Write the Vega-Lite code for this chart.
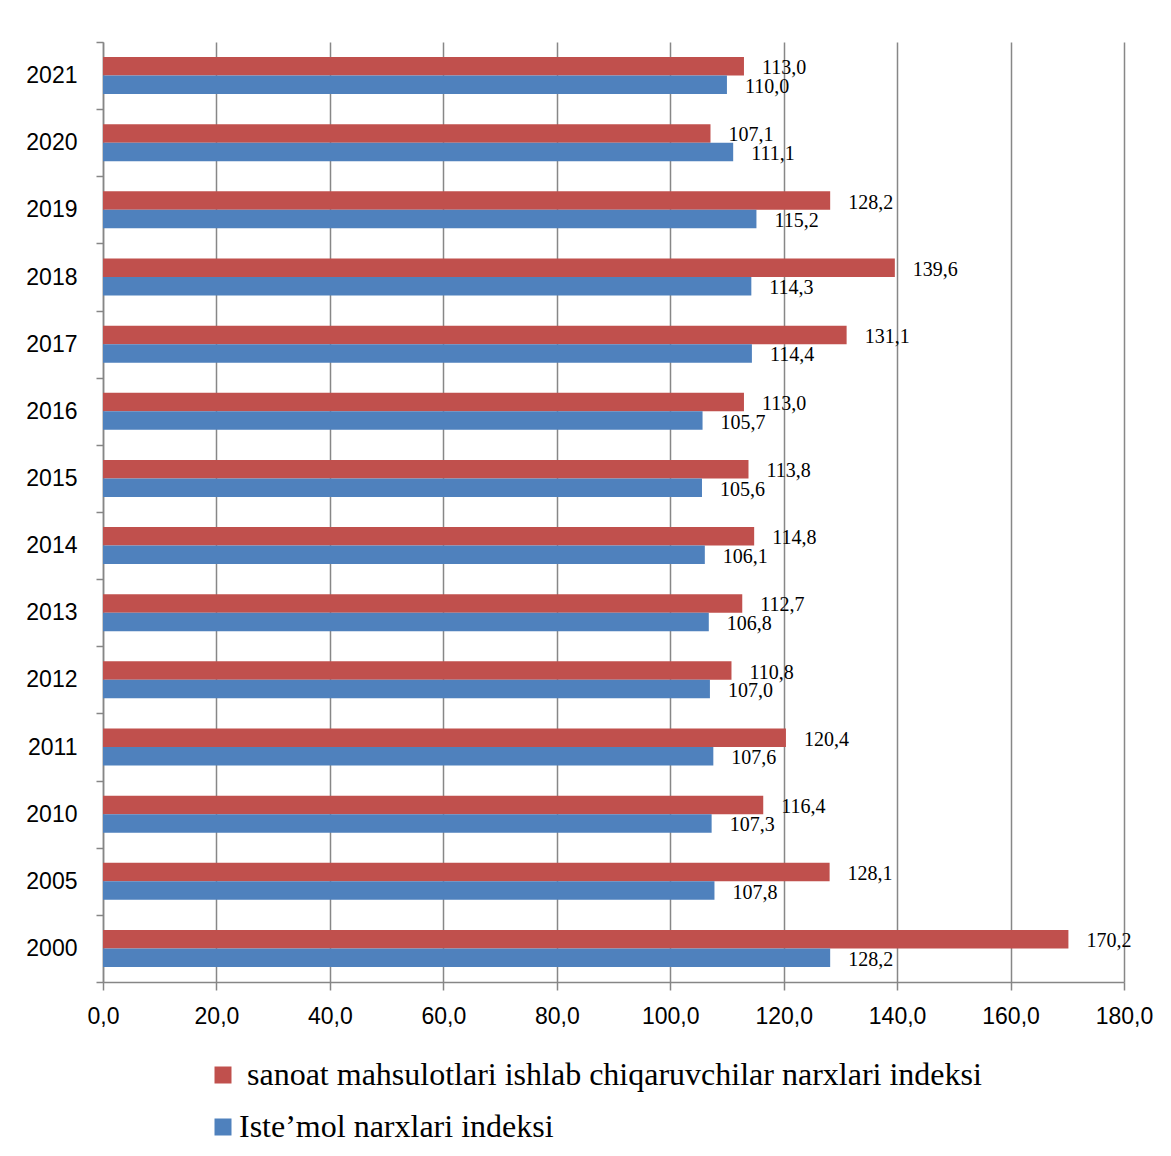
{
  "$schema": "https://vega.github.io/schema/vega-lite/v6.json",
  "autosize": {"type": "none"},
  "padding": {"left": 103, "top": 42, "right": 47, "bottom": 174},
  "width": 1021,
  "height": 940,
  "background": "white",
  "config": {
    "view": {"stroke": null},
    "locale": {"number": {"decimal": ",", "thousands": "\u00a0", "grouping": [3], "currency": ["", ""]}}
  },
  "data": {
    "values": [
      {"year": "2021", "series": "sanoat mahsulotlari ishlab chiqaruvchilar narxlari indeksi", "value": 113.0},
      {"year": "2021", "series": "Iste’mol narxlari indeksi", "value": 110.0},
      {"year": "2020", "series": "sanoat mahsulotlari ishlab chiqaruvchilar narxlari indeksi", "value": 107.1},
      {"year": "2020", "series": "Iste’mol narxlari indeksi", "value": 111.1},
      {"year": "2019", "series": "sanoat mahsulotlari ishlab chiqaruvchilar narxlari indeksi", "value": 128.2},
      {"year": "2019", "series": "Iste’mol narxlari indeksi", "value": 115.2},
      {"year": "2018", "series": "sanoat mahsulotlari ishlab chiqaruvchilar narxlari indeksi", "value": 139.6},
      {"year": "2018", "series": "Iste’mol narxlari indeksi", "value": 114.3},
      {"year": "2017", "series": "sanoat mahsulotlari ishlab chiqaruvchilar narxlari indeksi", "value": 131.1},
      {"year": "2017", "series": "Iste’mol narxlari indeksi", "value": 114.4},
      {"year": "2016", "series": "sanoat mahsulotlari ishlab chiqaruvchilar narxlari indeksi", "value": 113.0},
      {"year": "2016", "series": "Iste’mol narxlari indeksi", "value": 105.7},
      {"year": "2015", "series": "sanoat mahsulotlari ishlab chiqaruvchilar narxlari indeksi", "value": 113.8},
      {"year": "2015", "series": "Iste’mol narxlari indeksi", "value": 105.6},
      {"year": "2014", "series": "sanoat mahsulotlari ishlab chiqaruvchilar narxlari indeksi", "value": 114.8},
      {"year": "2014", "series": "Iste’mol narxlari indeksi", "value": 106.1},
      {"year": "2013", "series": "sanoat mahsulotlari ishlab chiqaruvchilar narxlari indeksi", "value": 112.7},
      {"year": "2013", "series": "Iste’mol narxlari indeksi", "value": 106.8},
      {"year": "2012", "series": "sanoat mahsulotlari ishlab chiqaruvchilar narxlari indeksi", "value": 110.8},
      {"year": "2012", "series": "Iste’mol narxlari indeksi", "value": 107.0},
      {"year": "2011", "series": "sanoat mahsulotlari ishlab chiqaruvchilar narxlari indeksi", "value": 120.4},
      {"year": "2011", "series": "Iste’mol narxlari indeksi", "value": 107.6},
      {"year": "2010", "series": "sanoat mahsulotlari ishlab chiqaruvchilar narxlari indeksi", "value": 116.4},
      {"year": "2010", "series": "Iste’mol narxlari indeksi", "value": 107.3},
      {"year": "2005", "series": "sanoat mahsulotlari ishlab chiqaruvchilar narxlari indeksi", "value": 128.1},
      {"year": "2005", "series": "Iste’mol narxlari indeksi", "value": 107.8},
      {"year": "2000", "series": "sanoat mahsulotlari ishlab chiqaruvchilar narxlari indeksi", "value": 170.2},
      {"year": "2000", "series": "Iste’mol narxlari indeksi", "value": 128.2}
    ]
  },
  "encoding": {
    "y": {
      "field": "year",
      "type": "nominal",
      "sort": ["2021", "2020", "2019", "2018", "2017", "2016", "2015", "2014", "2013", "2012", "2011", "2010", "2005", "2000"],
      "scale": {"paddingInner": 0, "paddingOuter": 0},
      "axis": {
        "title": null,
        "tickBand": "extent",
        "domainColor": "#868686",
        "domainWidth": 1.5,
        "tickColor": "#868686",
        "tickWidth": 1.5,
        "tickSize": 7,
        "labelFont": "Liberation Sans",
        "labelFontSize": 23,
        "labelColor": "black",
        "labelPadding": 19
      }
    },
    "yOffset": {
      "field": "series",
      "type": "nominal",
      "scale": {"domain": ["sanoat mahsulotlari ishlab chiqaruvchilar narxlari indeksi", "Iste’mol narxlari indeksi"], "paddingInner": 0, "paddingOuter": 0.815}
    },
    "x": {
      "field": "value",
      "type": "quantitative",
      "scale": {"domain": [0, 180], "nice": false},
      "axis": {
        "title": null,
        "values": [0, 20, 40, 60, 80, 100, 120, 140, 160, 180],
        "format": ".1f",
        "grid": true,
        "gridColor": "#878787",
        "gridWidth": 1.5,
        "domainColor": "#868686",
        "domainWidth": 1.5,
        "tickColor": "#868686",
        "tickWidth": 1.5,
        "tickSize": 8,
        "labelFont": "Liberation Sans",
        "labelFontSize": 23,
        "labelColor": "black",
        "labelPadding": 15,
        "labelFlush": false
      }
    }
  },
  "layer": [
    {
      "mark": {"type": "bar"},
      "encoding": {
        "color": {
          "field": "series",
          "type": "nominal",
          "scale": {"domain": ["sanoat mahsulotlari ishlab chiqaruvchilar narxlari indeksi", "Iste’mol narxlari indeksi"], "range": ["#C0504D", "#4F81BD"]},
          "legend": {
            "title": null,
            "orient": "none",
            "legendX": 104,
            "legendY": 1017,
            "symbolType": "square",
            "symbolSize": 289,
            "symbolStrokeWidth": 0,
            "labelFont": "Liberation Serif",
            "labelFontSize": 32,
            "labelColor": "black",
            "labelOffset": 0,
            "labelLimit": 1100,
            "rowPadding": 20,
            "labelExpr": "datum.value == 'Iste’mol narxlari indeksi' ? datum.label : '\u200b\u00a0' + datum.label"
          }
        }
      }
    },
    {
      "mark": {"type": "text", "align": "left", "baseline": "middle", "dx": 18, "dy": 2, "font": "Liberation Serif", "fontSize": 20, "color": "black"},
      "encoding": {
        "text": {"field": "value", "type": "quantitative", "format": ".1f"}
      }
    }
  ]
}
